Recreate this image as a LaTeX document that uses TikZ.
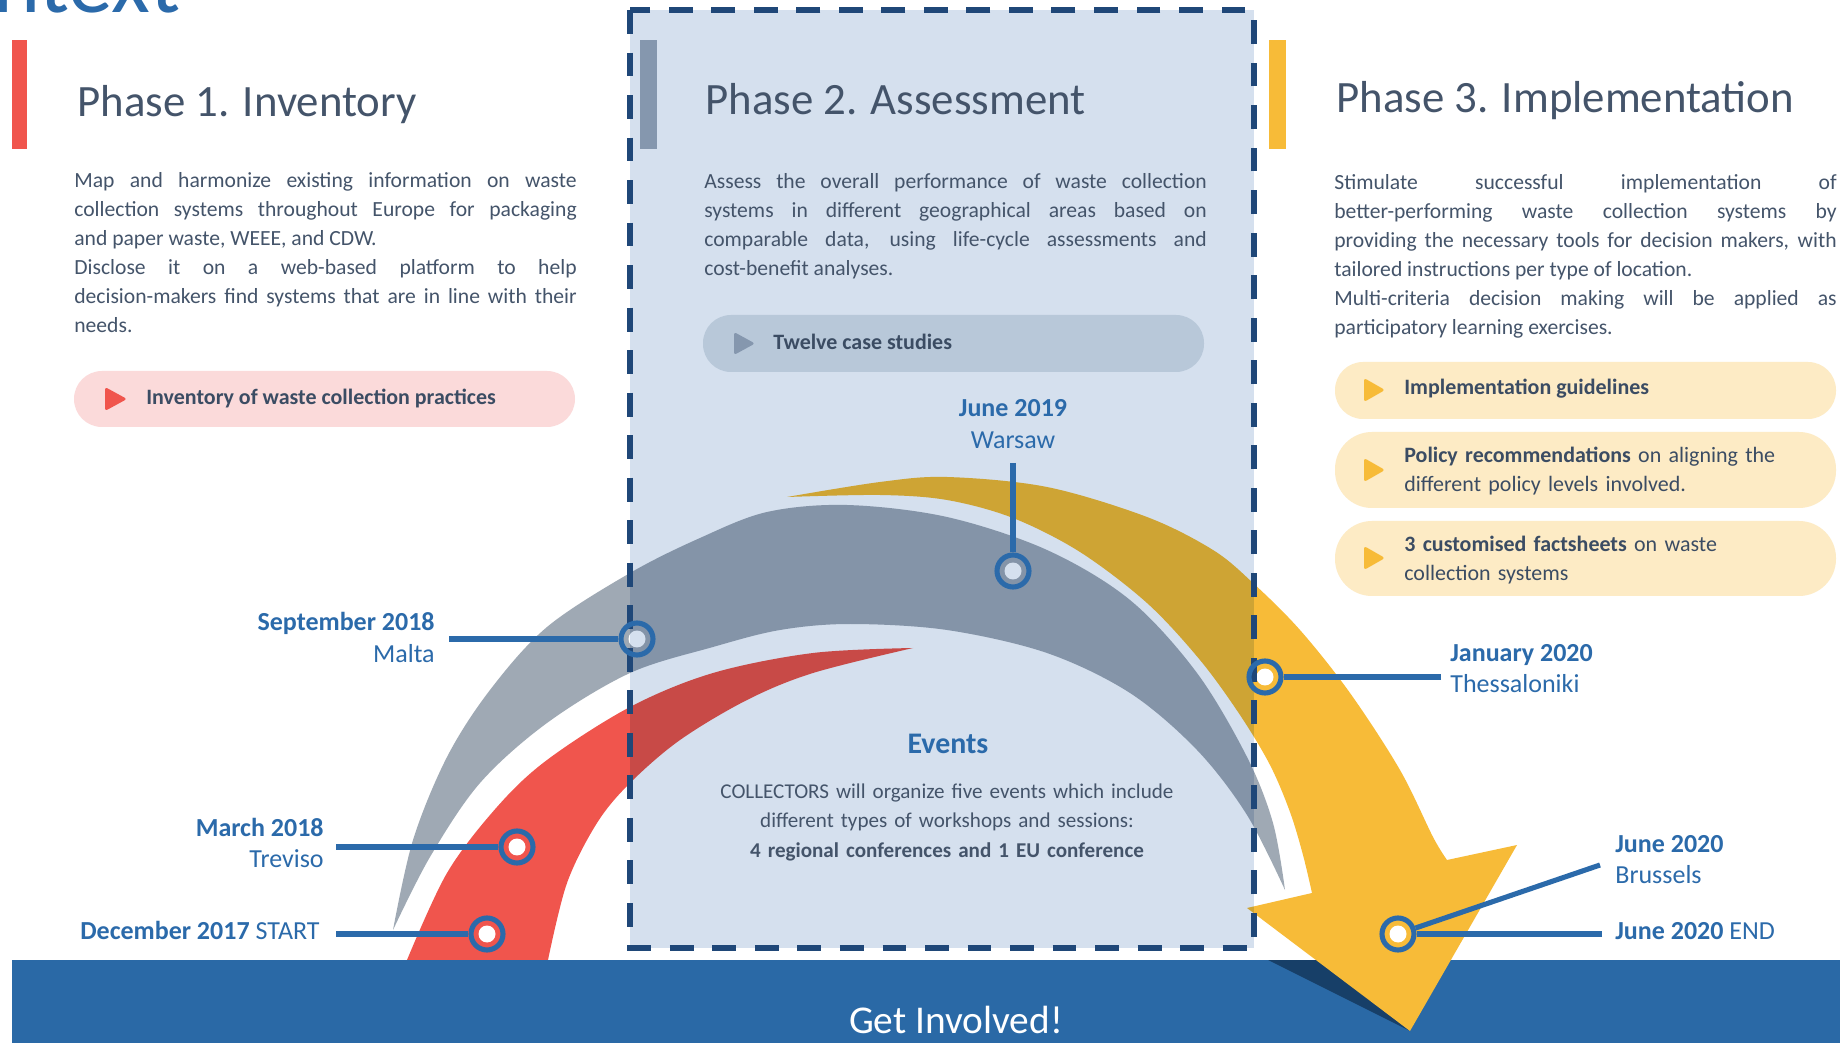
\documentclass[tikz,border=0pt]{standalone}
\usepackage{fontspec}
\setmainfont{Carlito}
\usetikzlibrary{positioning}

\definecolor{slatetext}{HTML}{44546A}
\definecolor{pilltext}{HTML}{3B4C63}
\definecolor{evblue}{HTML}{2B6AAA}
\definecolor{redarc}{HTML}{F0554D}
\definecolor{grayarc}{HTML}{9FA9B4}
\definecolor{goldarc}{HTML}{F7BB38}
\definecolor{graybar}{HTML}{8597AE}
\definecolor{redpill}{HTML}{FBDADA}
\definecolor{graypill}{HTML}{B8C8D9}
\definecolor{goldpill}{HTML}{FDEBC5}
\definecolor{boxfill}{HTML}{D5E0EE}
\definecolor{boxline}{HTML}{1F4778}
\definecolor{bandblue}{HTML}{2A69A6}
\definecolor{bandshade}{HTML}{173F68}

\newcommand{\fsz}[2]{\fontsize{#1}{#2}\selectfont}

\begin{document}
\begin{tikzpicture}[x=0.02cm, y=-0.02cm,
    phasetitle/.style={anchor=base west, inner sep=0pt, text=slatetext, font=\fsz{25.5pt}{30pt}},
    phasebody/.style={anchor=base west, inner sep=0pt, text=slatetext, text width=10.05cm, align=justify, font=\fsz{12.3pt}{16.4pt}},
    pillback/.style={rounded corners=0.56cm},
    playtri/.style={rounded corners=1.5pt},
    pilllabel/.style={anchor=base west, inner sep=0pt, text=pilltext, font=\fsz{12.5pt}{16.5pt}},
    ring/.style={circle, draw=evblue, line width=2.9pt, minimum size=0.64cm, inner sep=0pt},
    link/.style={draw=evblue, line width=2.9pt},
    evdate/.style={inner sep=0pt, text=evblue, font=\bfseries\fsz{14.8pt}{18pt}},
    evplace/.style={inner sep=0pt, text=evblue, font=\fsz{14.8pt}{18pt}},
    smoothedge/.style={smooth, tension=0.55}]
    \useasboundingbox (0,0) rectangle (1840,1043);
    \fill[white] (0,0) rectangle (1840,1043);
    \node[anchor=base east, inner sep=0pt, text=evblue, font=\fsz{51pt}{60pt}] (cut) at (181,13) {ntext};

    \fill[redarc] (12,40) rectangle (27,149);
    \node[phasetitle] (t1) at (77,117) {Phase 1. Inventory};
    \node[phasebody] (b1) at (74,188) {Map and harmonize existing information on waste\linebreak collection systems throughout Europe for packaging\linebreak and paper waste, WEEE, and CDW.\par Disclose it on a web-based platform to help\linebreak decision-makers find systems that are in line with their\linebreak needs.};
    \fill[redpill, pillback] (74,371) rectangle (575,427);
    \fill[redarc, playtri] (105,387) -- (127,399) -- (105,411) -- cycle;
    \node[pilllabel, font=\bfseries\fsz{12.5pt}{16.5pt}] (p1) at (146,405) {Inventory of waste collection practices};

    \fill[goldarc] (1269,40) rectangle (1286,149);
    \node[phasetitle] (t3) at (1336,113) {Phase 3. Implementation};
    \node[phasebody] (b3) at (1334,190) {Stimulate successful implementation of\linebreak better-performing waste collection systems by\linebreak providing the necessary tools for decision makers, with\linebreak tailored instructions per type of location.\par Multi-criteria decision making will be applied as\linebreak participatory learning exercises.};
    \fill[goldpill, pillback] (1335,362) rectangle (1836,419);
    \fill[goldpill, rounded corners=0.74cm] (1335,432) rectangle (1836,508);
    \fill[goldpill, rounded corners=0.74cm] (1335,521) rectangle (1836,596);
    \foreach \ty in {390,470,558}
        \fill[goldarc, playtri] (1364,\ty-12) -- ++(21,12) -- ++(-21,12) -- cycle;
    \node[pilllabel, font=\bfseries\fsz{12.5pt}{16.5pt}] (p3a) at (1404,395) {Implementation guidelines};
    \node[pilllabel, text width=8.6cm, align=left] (p3b) at (1404,463) {\textbf{Policy recommendations} on aligning the\\ different policy levels involved.};
    \node[pilllabel, text width=8.6cm, align=left] (p3c) at (1404,552) {\textbf{3 customised factsheets} on waste\\ collection systems};

    \fill[redarc] plot[smoothedge] coordinates {(407,960) (447,873) (497,807) (547,760) (630,707) (713,673) (813,653) (913,648)}
        -- plot[smoothedge] coordinates {(913,648) (813,673) (747,700) (680,740) (630,783) (597,823) (567,883) (548,960)} -- cycle;
    \fill[grayarc] plot[smoothedge] coordinates {(393,930) (413,840) (447,757) (490,690) (547,627) (630,573) (700,538) (767,512) (847,505) (947,517) (1047,550) (1130,600) (1197,673) (1247,757) (1273,823) (1285,890)}
        -- plot[smoothedge] coordinates {(1285,890) (1247,815) (1197,750) (1130,693) (1047,653) (947,630) (850,624) (780,630) (713,647) (630,673) (547,723) (480,783) (430,857) (393,930)} -- cycle;
    \fill[bandblue] (12,960) rectangle (1840,1043);
    \fill[bandshade] (1268,960) -- (1318,960) -- (1410,1031) -- cycle;
    \fill[goldarc] plot[smoothedge] coordinates {(787,497) (880,482) (947,477) (1047,487) (1147,517) (1213,550) (1253,583) (1300,630) (1350,693) (1400,770) (1433,837) (1447,860)}
        -- (1517,845) -- (1410,1031) -- (1247,908) -- (1312,893)
        -- plot[smoothedge] coordinates {(1312,893) (1303,855) (1290,812) (1270,765) (1240,715) (1200,660) (1147,603) (1080,552) (1013,518) (947,500) (880,495) (787,497)} -- cycle;

    \coordinate (mdec) at (487,934);
    \coordinate (mmar) at (517,847);
    \coordinate (msep) at (637,639);
    \coordinate (mjun) at (1013,571);
    \coordinate (mjan) at (1265,677);
    \coordinate (mbru) at (1398,934);
    \foreach \m in {mdec,mmar,msep,mjun,mjan,mbru}
        \fill[white] (\m) circle (0.17cm);

    \begin{scope}[blend mode=multiply]
        \fill[boxfill] (630,10) rectangle (1254,948);
    \end{scope}
    \draw[boxline, line width=3.4pt, dash pattern=on 13.6pt off 10.6pt] (630,10) rectangle (1254,948);

    \fill[graybar] (640,40) rectangle (657,149);
    \node[phasetitle] (t2) at (705,115) {Phase 2. Assessment};
    \node[phasebody] (b2) at (704,189) {Assess the overall performance of waste collection\linebreak systems in different geographical areas based on\linebreak comparable data, using life-cycle assessments and\linebreak cost-benefit analyses.};
    \fill[graypill, pillback] (703,315) rectangle (1204,372);
    \fill[graybar, playtri] (734,332) -- (755,343.5) -- (734,355) -- cycle;
    \node[pilllabel, font=\bfseries\fsz{12.5pt}{16.5pt}] (p2) at (773,350) {Twelve case studies};

    \node[anchor=base, inner sep=0pt, text=evblue, font=\bfseries\fsz{17pt}{20pt}] (evt) at (948,753) {Events};
    \node[anchor=base, inner sep=0pt, text=slatetext, text width=11cm, align=center, font=\fsz{12pt}{16.8pt}] (evtext) at (947,798) {COLLECTORS will organize five events which include\\ different types of workshops and sessions:\\ \textbf{4 regional conferences and 1 EU conference}};

    \begin{scope}[every node/.style={ring}]
        \node (rdec) at (mdec) {};
        \node (rmar) at (mmar) {};
        \node (rsep) at (msep) {};
        \node (rjun) at (mjun) {};
        \node (rjan) at (mjan) {};
        \node (rbru) at (mbru) {};
    \end{scope}
    \coordinate (ldec) at (336,934);
    \coordinate (lmar) at (336,847);
    \coordinate (lsep) at (449,639);
    \coordinate (ljun) at (1013,463);
    \coordinate (ljan) at (1441,677);
    \coordinate (lbru) at (1600,865);
    \coordinate (lend) at (1602,934);
    \draw[link] (ldec) -- (rdec);
    \draw[link] (lmar) -- (rmar);
    \draw[link] (lsep) -- (rsep);
    \draw[link] (ljun) -- (rjun);
    \draw[link] (ljan) -- (rjan);
    \draw[link] (lbru) -- (rbru);
    \draw[link] (lend) -- (rbru);

    \node[evdate, anchor=base east] (dsep) at (435,631) {September 2018};
    \node[evplace, anchor=base east] (psep) at (435,663) {Malta};
    \node[evdate, anchor=base east] (dmar) at (324,836) {March 2018};
    \node[evplace, anchor=base east] (pmar) at (324,867) {Treviso};
    \node[evplace, anchor=base east] (ddec) at (320,939) {\textbf{December 2017} START};
    \node[evdate, anchor=base] (djun) at (1013,417) {June 2019};
    \node[evplace, anchor=base] (pjun) at (1013,449) {Warsaw};
    \node[evdate, anchor=base west] (djan) at (1450,662) {January 2020};
    \node[evplace, anchor=base west] (pjan) at (1450,693) {Thessaloniki};
    \node[evdate, anchor=base west] (dbru) at (1615,852) {June 2020};
    \node[evplace, anchor=base west] (pbru) at (1615,883) {Brussels};
    \node[evplace, anchor=base west] (dend) at (1615,939) {\textbf{June 2020} END};

    \node[anchor=base, inner sep=0pt, text=white, font=\fsz{22.4pt}{26pt}] (cta) at (956,1033) {Get Involved!};
\end{tikzpicture}
\end{document}
